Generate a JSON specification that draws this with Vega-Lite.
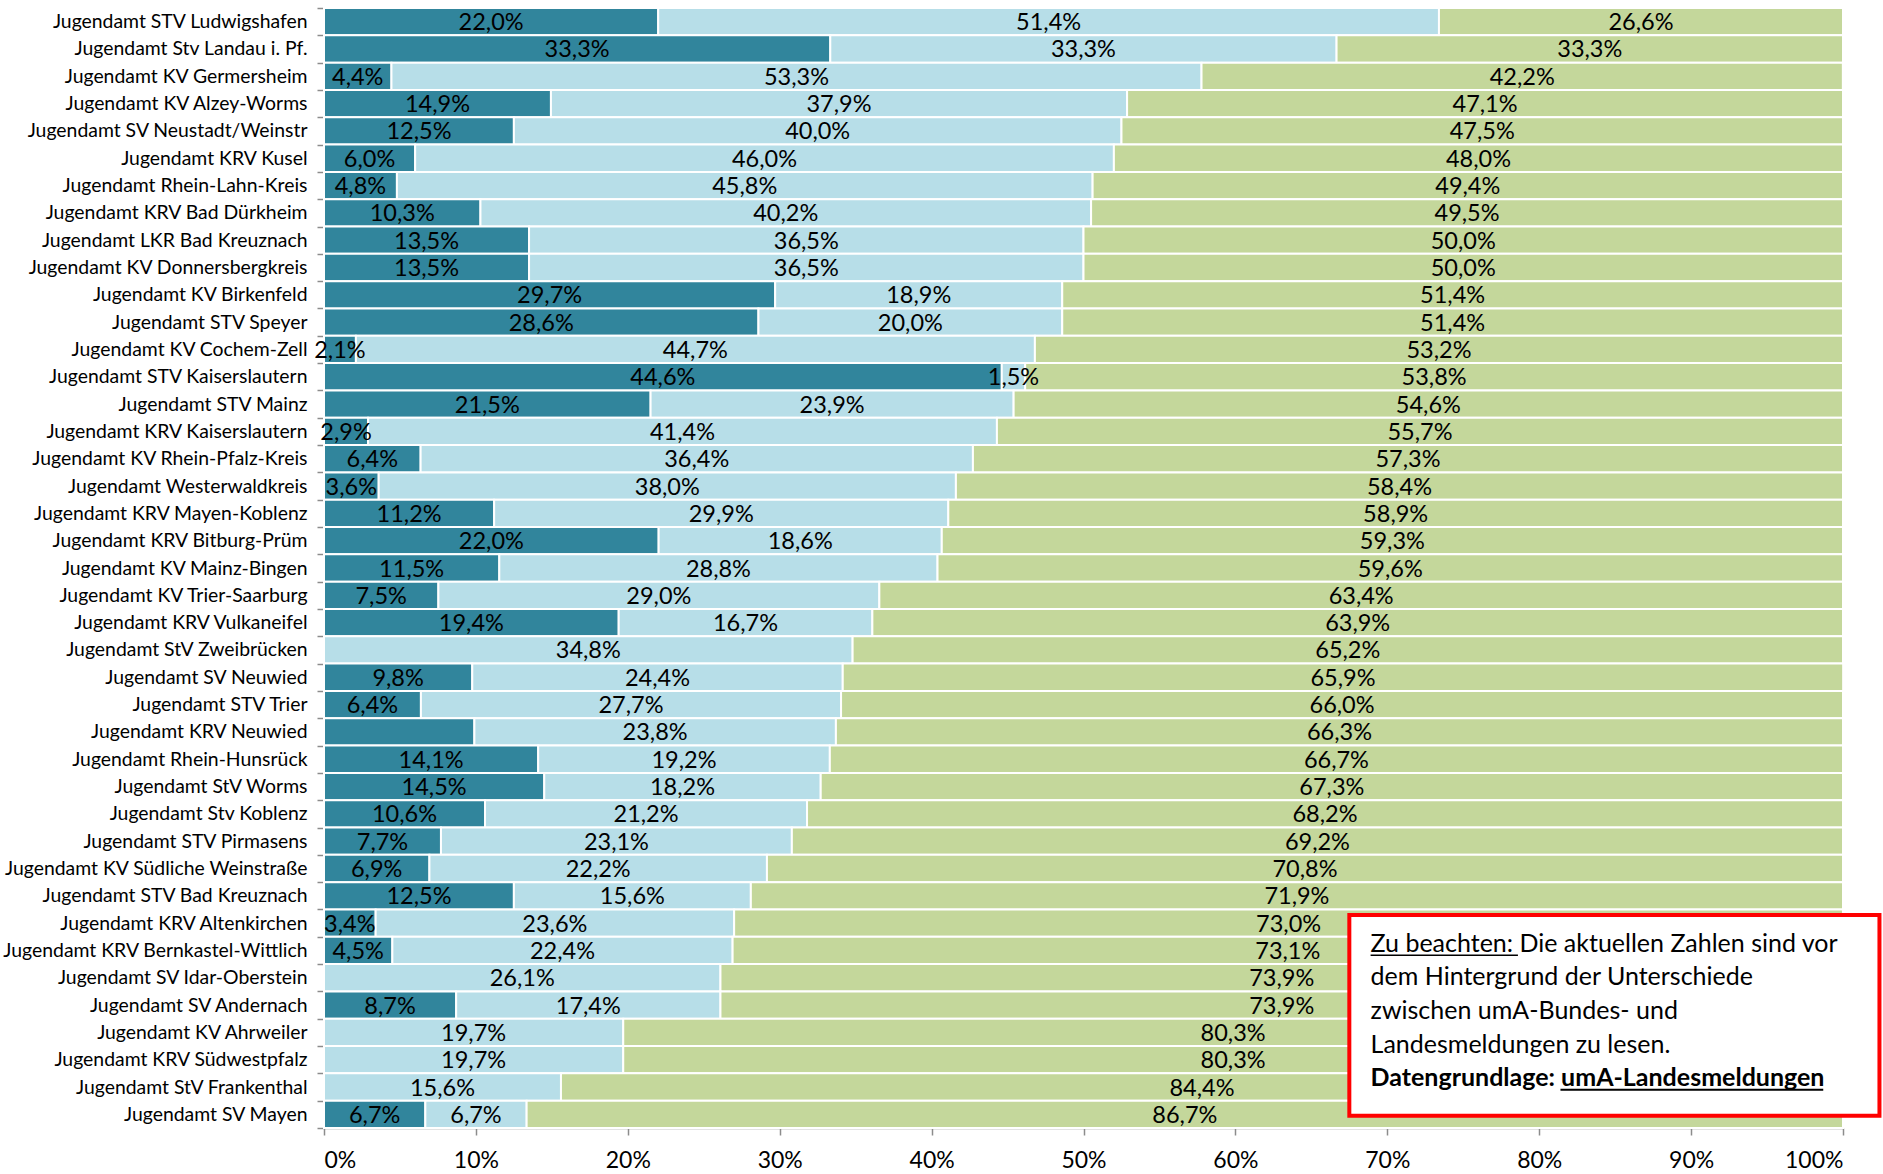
{
  "$schema": "https://vega.github.io/schema/vega-lite/v6.json",
  "width": 1519,
  "height": 1120,
  "autosize": {"type": "none"},
  "padding": {"left": 324, "top": 8, "right": 40, "bottom": 46},
  "background": "white",
  "config": {
    "locale": {"number": {"decimal": ",", "thousands": ".", "grouping": [3], "currency": ["", " €"]}},
    "view": {"stroke": null},
    "font": "Lato"
  },
  "layer": [
    {
      "data": {"values": [
        {"org": "Jugendamt STV Ludwigshafen", "a": 0.220, "b": 0.514, "c": 0.266},
        {"org": "Jugendamt Stv Landau i. Pf.", "a": 0.3333, "b": 0.3333, "c": 0.3334},
        {"org": "Jugendamt KV Germersheim", "a": 0.0444, "b": 0.5333, "c": 0.4222},
        {"org": "Jugendamt KV Alzey-Worms", "a": 0.1494, "b": 0.3793, "c": 0.4713},
        {"org": "Jugendamt SV Neustadt/Weinstr", "a": 0.125, "b": 0.400, "c": 0.475},
        {"org": "Jugendamt KRV Kusel", "a": 0.060, "b": 0.460, "c": 0.480},
        {"org": "Jugendamt Rhein-Lahn-Kreis", "a": 0.048, "b": 0.458, "c": 0.494},
        {"org": "Jugendamt KRV Bad Dürkheim", "a": 0.103, "b": 0.402, "c": 0.495},
        {"org": "Jugendamt LKR Bad Kreuznach", "a": 0.135, "b": 0.365, "c": 0.500},
        {"org": "Jugendamt KV Donnersbergkreis", "a": 0.135, "b": 0.365, "c": 0.500},
        {"org": "Jugendamt KV Birkenfeld", "a": 0.297, "b": 0.189, "c": 0.514},
        {"org": "Jugendamt STV Speyer", "a": 0.286, "b": 0.200, "c": 0.514},
        {"org": "Jugendamt KV Cochem-Zell", "a": 0.021, "b": 0.447, "c": 0.532},
        {"org": "Jugendamt STV Kaiserslautern", "a": 0.4462, "b": 0.0154, "c": 0.5384},
        {"org": "Jugendamt STV Mainz", "a": 0.215, "b": 0.239, "c": 0.546},
        {"org": "Jugendamt KRV Kaiserslautern", "a": 0.029, "b": 0.414, "c": 0.557},
        {"org": "Jugendamt KV Rhein-Pfalz-Kreis", "a": 0.0636, "b": 0.3636, "c": 0.5728},
        {"org": "Jugendamt Westerwaldkreis", "a": 0.036, "b": 0.380, "c": 0.584},
        {"org": "Jugendamt KRV Mayen-Koblenz", "a": 0.112, "b": 0.299, "c": 0.589},
        {"org": "Jugendamt KRV Bitburg-Prüm", "a": 0.2203, "b": 0.1864, "c": 0.5933},
        {"org": "Jugendamt KV Mainz-Bingen", "a": 0.1154, "b": 0.2885, "c": 0.5961},
        {"org": "Jugendamt KV Trier-Saarburg", "a": 0.0753, "b": 0.2903, "c": 0.6344},
        {"org": "Jugendamt KRV Vulkaneifel", "a": 0.194, "b": 0.167, "c": 0.639},
        {"org": "Jugendamt StV Zweibrücken", "a": 0, "b": 0.348, "c": 0.652},
        {"org": "Jugendamt SV Neuwied", "a": 0.0976, "b": 0.2439, "c": 0.6586},
        {"org": "Jugendamt STV Trier", "a": 0.0638, "b": 0.2766, "c": 0.6596},
        {"org": "Jugendamt KRV Neuwied", "a": 0.099, "b": 0.238, "c": 0.663},
        {"org": "Jugendamt Rhein-Hunsrück", "a": 0.141, "b": 0.192, "c": 0.667},
        {"org": "Jugendamt StV Worms", "a": 0.145, "b": 0.182, "c": 0.673},
        {"org": "Jugendamt Stv Koblenz", "a": 0.106, "b": 0.212, "c": 0.682},
        {"org": "Jugendamt STV Pirmasens", "a": 0.077, "b": 0.231, "c": 0.692},
        {"org": "Jugendamt KV Südliche Weinstraße", "a": 0.0694, "b": 0.2222, "c": 0.7084},
        {"org": "Jugendamt STV Bad Kreuznach", "a": 0.125, "b": 0.156, "c": 0.719},
        {"org": "Jugendamt KRV Altenkirchen", "a": 0.034, "b": 0.236, "c": 0.730},
        {"org": "Jugendamt KRV Bernkastel-Wittlich", "a": 0.045, "b": 0.224, "c": 0.731},
        {"org": "Jugendamt SV Idar-Oberstein", "a": 0, "b": 0.261, "c": 0.739},
        {"org": "Jugendamt SV Andernach", "a": 0.087, "b": 0.174, "c": 0.739},
        {"org": "Jugendamt KV Ahrweiler", "a": 0, "b": 0.197, "c": 0.803},
        {"org": "Jugendamt KRV Südwestpfalz", "a": 0, "b": 0.197, "c": 0.803},
        {"org": "Jugendamt StV Frankenthal", "a": 0, "b": 0.156, "c": 0.844},
        {"org": "Jugendamt SV Mayen", "a": 0.0667, "b": 0.0667, "c": 0.8666}
      ]},
      "transform": [
        {"fold": ["a", "b", "c"], "as": ["k", "v"]},
        {"stack": "v", "groupby": ["org"], "sort": [{"field": "k", "order": "ascending"}], "as": ["v0", "v1"]},
        {"calculate": "(datum.v0 + datum.v1) / 2", "as": "mid"}
      ],
      "layer": [
        {
          "mark": {"type": "bar", "stroke": "white", "strokeWidth": 2},
          "encoding": {
            "y": {"field": "org", "type": "nominal", "sort": null,
              "scale": {"paddingInner": 0, "paddingOuter": 0},
              "axis": {"title": null, "orient": "left", "labelFontSize": 19.4, "labelColor": "black", "labelPadding": 10, "labelLimit": 400, "ticks": true, "tickBand": "extent", "tickSize": 7, "tickColor": "#8c8c8c", "tickWidth": 1.5, "domainColor": "#8c8c8c", "domainWidth": 1.5}},
            "x": {"field": "v0", "type": "quantitative",
              "scale": {"domain": [0, 1], "nice": false, "zero": true},
              "axis": {"title": null, "format": ".0%", "values": [0, 0.1, 0.2, 0.3, 0.4, 0.5, 0.6, 0.7, 0.8, 0.9, 1], "grid": false, "labelFontSize": 23, "labelColor": "black", "labelPadding": 14, "tickSize": 7, "tickColor": "#8c8c8c", "tickWidth": 1.5, "domainColor": "#8c8c8c", "domainWidth": 1.5}},
            "x2": {"field": "v1"},
            "color": {"field": "k", "type": "nominal", "legend": null,
              "scale": {"domain": ["a", "b", "c"], "range": ["#31859C", "#B7DEE8", "#C4D79B"]}}
          }
        },
        {
          "transform": [{"filter": "datum.v > 0 && !(datum.org == 'Jugendamt KRV Neuwied' && datum.k == 'a')"}],
          "mark": {"type": "text", "fontSize": 23.5, "color": "black", "baseline": "middle", "align": "center", "dy": 1.5},
          "encoding": {
            "y": {"field": "org", "type": "nominal", "sort": null},
            "x": {"field": "mid", "type": "quantitative"},
            "text": {"field": "v", "type": "quantitative", "format": ".1%"}
          }
        }
      ]
    },
    {
      "data": {"values": [{}]},
      "layer": [
        {
          "mark": {"type": "rect", "fill": "white", "stroke": "#FF0000", "strokeWidth": 4},
          "encoding": {
            "x": {"datum": 0.675, "type": "quantitative", "scale": {"domain": [0, 1], "nice": false}},
            "x2": {"datum": 1.024},
            "y": {"datum": 33.2, "type": "quantitative", "scale": {"domain": [0, 41], "reverse": true, "nice": false, "zero": false}, "axis": null},
            "y2": {"datum": 40.55}
          }
        },
        {
          "mark": {"type": "text", "align": "left", "baseline": "middle", "fontSize": 25, "color": "black", "text": "Zu beachten: Die aktuellen Zahlen sind vor"},
          "encoding": {"x": {"datum": 0.689, "type": "quantitative"}, "y": {"datum": 34.26, "type": "quantitative"}}
        },
        {
          "mark": {"type": "text", "align": "left", "baseline": "middle", "fontSize": 25, "color": "black", "text": "dem Hintergrund der Unterschiede"},
          "encoding": {"x": {"datum": 0.689, "type": "quantitative"}, "y": {"datum": 35.47, "type": "quantitative"}}
        },
        {
          "mark": {"type": "text", "align": "left", "baseline": "middle", "fontSize": 25, "color": "black", "text": "zwischen umA-Bundes- und"},
          "encoding": {"x": {"datum": 0.689, "type": "quantitative"}, "y": {"datum": 36.7, "type": "quantitative"}}
        },
        {
          "mark": {"type": "text", "align": "left", "baseline": "middle", "fontSize": 25, "color": "black", "text": "Landesmeldungen zu lesen."},
          "encoding": {"x": {"datum": 0.689, "type": "quantitative"}, "y": {"datum": 37.96, "type": "quantitative"}}
        },
        {
          "mark": {"type": "text", "align": "left", "baseline": "middle", "fontSize": 25, "fontWeight": "bold", "color": "black", "text": "Datengrundlage: umA-Landesmeldungen"},
          "encoding": {"x": {"datum": 0.689, "type": "quantitative"}, "y": {"datum": 39.17, "type": "quantitative"}}
        },
        {
          "mark": {"type": "rule", "color": "black", "strokeWidth": 1.5},
          "encoding": {"x": {"datum": 0.689, "type": "quantitative"}, "x2": {"datum": 0.786}, "y": {"datum": 34.68, "type": "quantitative"}}
        },
        {
          "mark": {"type": "rule", "color": "black", "strokeWidth": 2},
          "encoding": {"x": {"datum": 0.814, "type": "quantitative"}, "x2": {"datum": 0.987}, "y": {"datum": 39.6, "type": "quantitative"}}
        }
      ]
    }
  ],
  "resolve": {"scale": {"y": "independent"}, "axis": {"y": "independent"}}
}
